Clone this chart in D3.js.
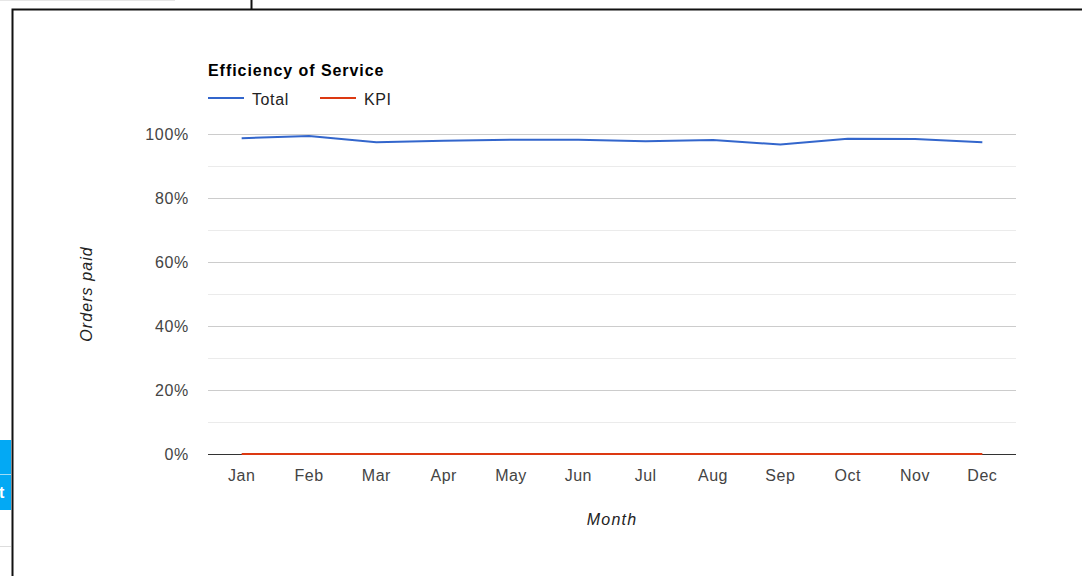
<!DOCTYPE html>
<html><head><meta charset="utf-8">
<script src="https://cdn.jsdelivr.net/npm/d3@7"></script>
<style>
html,body{margin:0;padding:0;background:#fff;overflow:hidden;}
svg{display:block;font-family:"Liberation Sans",Arial,sans-serif;}
</style></head>
<body><svg id="c" width="1082" height="576"></svg>
<script>
const months = ["Jan","Feb","Mar","Apr","May","Jun","Jul","Aug","Sep","Oct","Nov","Dec"];
const totalValues = [98.7, 99.4, 97.4, 97.9, 98.2, 98.2, 97.7, 98.1, 96.7, 98.5, 98.4, 97.4];
const kpiValues = [0,0,0,0,0,0,0,0,0,0,0,0];
const yTicks = [0,20,40,60,80,100];
const minorTicks = [10,30,50,70,90];
const seriesNames = ["Total","KPI"];
const seriesColors = ["#3366cc","#dc3912"];

const svg = d3.select("#c");

// surrounding page frame
svg.append("line").attr("x1",0).attr("x2",175).attr("y1",0.5).attr("y2",0.5).attr("stroke","#e6e6e6");
svg.append("line").attr("x1",251.5).attr("x2",251.5).attr("y1",0).attr("y2",9).attr("stroke","#111").attr("stroke-width",2);
svg.append("path").attr("d","M12.5,576 V9.5 H1082").attr("fill","none").attr("stroke","#111").attr("stroke-width",2);
svg.append("rect").attr("x",0).attr("y",440).attr("width",11).attr("height",70).attr("fill","#03a9f4");
svg.append("line").attr("x1",0).attr("x2",11).attr("y1",474.5).attr("y2",474.5).attr("stroke","#9fdcf7");
svg.append("text").attr("x",-1).attr("y",498).attr("fill","#fff").attr("font-weight","bold").attr("font-size",16).text("t");
svg.append("line").attr("x1",0).attr("x2",11).attr("y1",546.5).attr("y2",546.5).attr("stroke","#ddd");

const L = 208, R = 1016, T = 134, B = 454;
const x = d3.scaleBand().domain(months).range([L,R]);
const xc = m => x(m) + x.bandwidth()/2;
const y = d3.scaleLinear().domain([0,100]).range([B,T]);

const g = svg.append("g");
// minor grid
g.selectAll(".mg").data(minorTicks).join("line")
  .attr("x1",L).attr("x2",R).attr("y1",d=>Math.round(y(d))+0.5).attr("y2",d=>Math.round(y(d))+0.5)
  .attr("stroke","#ebebeb");
// major grid
g.selectAll(".Mg").data(yTicks.filter(d=>d>0)).join("line")
  .attr("x1",L).attr("x2",R).attr("y1",d=>Math.round(y(d))+0.5).attr("y2",d=>Math.round(y(d))+0.5)
  .attr("stroke","#cccccc");

// y axis labels via d3 axis
const yAxis = d3.axisLeft(y).tickValues(yTicks).tickFormat(d=>d+"%").tickSize(0).tickPadding(0);
const ya = svg.append("g").attr("transform",`translate(${189},0)`).call(yAxis);
ya.select(".domain").remove();
ya.selectAll("text").attr("font-size",16).attr("fill","#444").attr("font-family","Liberation Sans, Arial, sans-serif")
  .attr("dy","0.35em").attr("letter-spacing","0.7px");

// x axis labels
const xAxis = d3.axisBottom(x).tickSize(0).tickPadding(0);
const xa = svg.append("g").attr("transform",`translate(0,${470})`).call(xAxis);
xa.select(".domain").remove();
xa.selectAll("text").attr("font-size",16).attr("fill","#444").attr("font-family","Liberation Sans, Arial, sans-serif")
  .attr("dy","0.71em").attr("letter-spacing","0.5px");

// baseline
svg.append("line").attr("x1",L).attr("x2",R).attr("y1",B+0.5).attr("y2",B+0.5).attr("stroke","#333").attr("stroke-width",1);

const line = d3.line().x((d,i)=>xc(months[i])).y(d=>y(d));
svg.append("path").datum(kpiValues).attr("d",line).attr("fill","none").attr("stroke",seriesColors[1]).attr("stroke-width",2);
svg.append("path").datum(totalValues).attr("d",line).attr("fill","none").attr("stroke",seriesColors[0]).attr("stroke-width",2);

// title & legend
svg.append("text").attr("x",L).attr("y",76).attr("font-size",16).attr("font-weight","bold").attr("fill","#000")
  .attr("letter-spacing","0.95px").text("Efficiency of Service");
const legX = [208, 320];
seriesNames.forEach((s,i)=>{
  svg.append("line").attr("x1",legX[i]).attr("x2",legX[i]+36).attr("y1",98).attr("y2",98).attr("stroke",seriesColors[i]).attr("stroke-width",2);
  svg.append("text").attr("x",legX[i]+44).attr("y",105).attr("font-size",16).attr("fill","#222")
    .attr("letter-spacing","0.6px").text(s);
});

// axis titles
svg.append("text").attr("x",(L+R)/2).attr("y",525).attr("text-anchor","middle").attr("font-size",16).attr("font-style","italic").attr("fill","#222")
  .attr("letter-spacing","1.2px").text("Month");
svg.append("text").attr("transform",`translate(92,${(T+B)/2}) rotate(-90)`).attr("text-anchor","middle").attr("font-size",16).attr("font-style","italic").attr("fill","#222")
  .attr("letter-spacing","1.1px").text("Orders paid");
</script></body></html>
